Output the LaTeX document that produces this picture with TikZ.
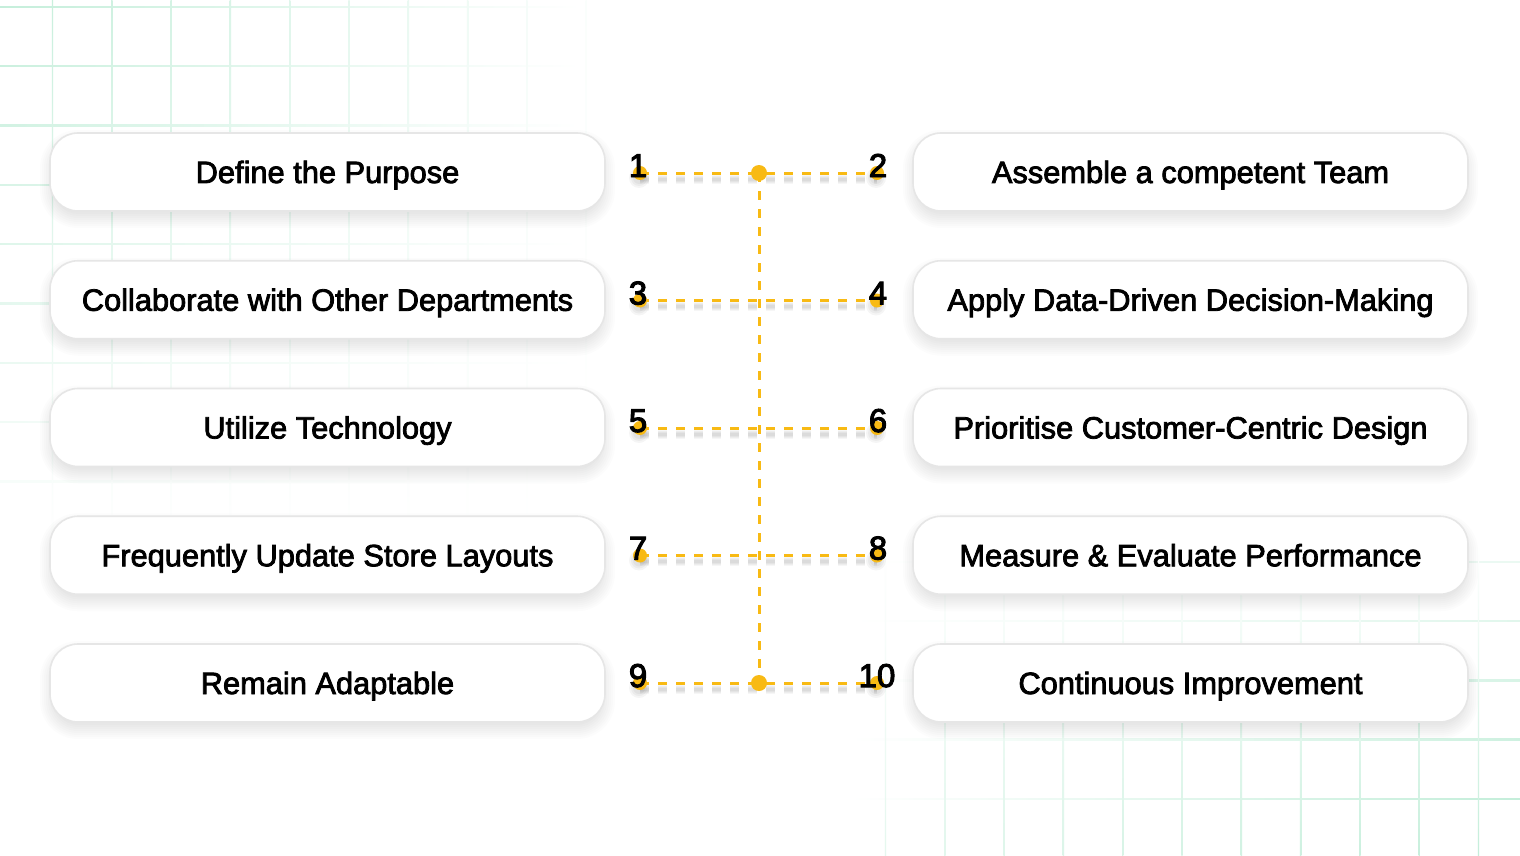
\documentclass[tikz,border=0pt]{standalone}
\usepackage{fontspec}
\setmainfont{Liberation Sans}
\newfontfamily\boxfont{Liberation Sans}[FakeBold=2.6]
\newfontfamily\numfont{Liberation Sans}[FakeBold=3]
\definecolor{mint}{HTML}{C4EEDA}
\definecolor{gold}{HTML}{F8BA14}
\definecolor{edge}{HTML}{E6E6E6}
\tikzset{
  stepbox/.style={draw=edge, line width=0.8pt, fill=white, rounded corners=14pt,
    minimum width=277.5pt, minimum height=39pt, inner sep=0pt,
    font=\boxfont\fontsize{15.4}{18}\selectfont, text height=11pt, text depth=0pt},
  enddot/.style={circle, fill=gold, inner sep=0pt, minimum size=7pt},
  middot/.style={circle, fill=gold, inner sep=0pt, minimum size=8pt},
  numlab/.style={inner sep=0pt, font=\numfont\fontsize{16.5}{18}\selectfont, text height=11.5pt, text depth=0pt},
  link/.style={draw=gold, line width=1.5pt, dash pattern=on 4.5pt off 4.5pt},
  linkshadow/.style={draw=black, opacity=0.035, dash pattern=on 4.5pt off 4.5pt}
}
\newcommand\boxshadow[2]{%
  \foreach \r in {0,2,...,14}{%
    \pgfmathsetmacro\rc{(24+\r)*0.5}%
    \fill[black,opacity=0.013,rounded corners=\rc pt]
      (#1-277.5-\r+4, #2-39-\r+4+7) rectangle (#1+277.5+\r-4, #2+39+\r-4+7);
  }}
\begin{document}
\begin{tikzpicture}[x=0.5pt,y=-0.5pt]
\useasboundingbox (0,0) rectangle (1520,856);
\fill[white] (0,0) rectangle (1520,856);
% top-left grid
\foreach \k in {0,...,8}{
  \pgfmathsetmacro\yy{7+59.3*\k}
  \pgfmathsetmacro\ii{int(100*(1-\yy/560))}
  \shade[left color=mint!\ii!white, right color=white] (0,\yy-0.7) rectangle (580,\yy+0.7);
}
\foreach \k in {0,...,9}{
  \pgfmathsetmacro\xx{52.5+59.3*\k}
  \pgfmathsetmacro\ii{int(100*(1-\xx/640))}
  \shade[top color=mint!\ii!white, bottom color=white] (\xx-0.7,0) rectangle (\xx+0.7,540);
}
% bottom-right grid
\foreach \k in {0,...,4}{
  \pgfmathsetmacro\yy{562+59.2*\k}
  \pgfmathsetmacro\ii{int(35+65*\k/4)}
  \shade[left color=white, right color=mint!\ii!white] (850,\yy-0.7) rectangle (1520,\yy+0.7);
}
\foreach \k in {0,...,10}{
  \pgfmathsetmacro\xx{885.5+59.3*\k}
  \pgfmathsetmacro\ii{int(45+55*\k/10)}
  \shade[top color=white, bottom color=mint!\ii!white] (\xx-0.7,545) rectangle (\xx+0.7,856);
}
% box shadows
\foreach \yy in {172,299.75,427.5,555.25,683}{
  \boxshadow{327.5}{\yy}
  \boxshadow{1190.5}{\yy}
}
% boxes
\node[stepbox] (L1) at (327.5,172) {Define the Purpose};
\node[stepbox] (L2) at (327.5,299.75) {Collaborate with Other Departments};
\node[stepbox] (L3) at (327.5,427.5) {Utilize Technology};
\node[stepbox] (L4) at (327.5,555.25) {Frequently Update Store Layouts};
\node[stepbox] (L5) at (327.5,683) {Remain Adaptable};
\node[stepbox] (R1) at (1190.5,172) {Assemble a competent Team};
\node[stepbox] (R2) at (1190.5,299.75) {Apply Data-Driven Decision-Making};
\node[stepbox] (R3) at (1190.5,427.5) {Prioritise Customer-Centric Design};
\node[stepbox] (R4) at (1190.5,555.25) {Measure \& Evaluate Performance};
\node[stepbox] (R5) at (1190.5,683) {Continuous Improvement};
% dot positions
\coordinate (d1) at (640,173);
\coordinate (d2) at (877,173);
\coordinate (d3) at (640,300.5);
\coordinate (d4) at (877,300.5);
\coordinate (d5) at (640,428);
\coordinate (d6) at (877,428);
\coordinate (d7) at (640,555.5);
\coordinate (d8) at (877,555.5);
\coordinate (d9) at (640,683);
\coordinate (d10) at (877,683);
\coordinate (ct) at (759,173);
\coordinate (cb) at (759,683);
% connector shadows (soft)
\foreach \a/\b in {d1/d2,d3/d4,d5/d6,d7/d8,d9/d10}{
  \foreach \w in {1.5,2.5,3.5,4.5}{
    \draw[linkshadow, line width=\w pt] ([yshift=-3pt]\a) -- ([yshift=-3pt]\b);
  }
  \foreach \rr in {6,8,10}{
    \fill[black,opacity=0.04] ([xshift=-0.5pt,yshift=-2.5pt]\a) circle (\rr);
    \fill[black,opacity=0.04] ([xshift=-0.5pt,yshift=-2.5pt]\b) circle (\rr);
  }
}
% connectors
\foreach \a/\b in {d1/d2,d3/d4,d5/d6,d7/d8,d9/d10}{
  \draw[link] (\a) -- (\b);
}
\draw[link] (ct) -- (cb);
% dots
\foreach \p in {d1,d2,d3,d4,d5,d6,d7,d8,d9,d10}{
  \node[enddot] at (\p) {};
}
\node[middot] (ctd) at (ct) {};
\node[middot] (cbd) at (cb) {};
% numbers
\node[numlab] (n1) at (638,165.5) {1};
\node[numlab] (n2) at (878,165.5) {2};
\node[numlab] (n3) at (638,293) {3};
\node[numlab] (n4) at (878,293) {4};
\node[numlab] (n5) at (638,420.5) {5};
\node[numlab] (n6) at (878,420.5) {6};
\node[numlab] (n7) at (638,548) {7};
\node[numlab] (n8) at (878,548) {8};
\node[numlab] (n9) at (638,675.5) {9};
\node[numlab] (n10) at (877,675.5) {10};
\end{tikzpicture}
\end{document}
